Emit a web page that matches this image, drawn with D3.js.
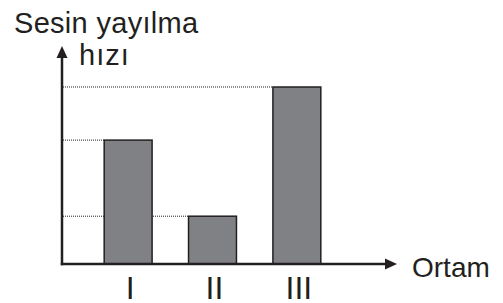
<!DOCTYPE html>
<html>
<head>
<meta charset="utf-8">
<script src="https://cdn.jsdelivr.net/npm/d3@7"></script>
<style>
  html, body { margin: 0; padding: 0; background: #fff; }
  text { font-family: "Liberation Sans", Arial, sans-serif; fill: #231f20; }
</style>
</head>
<body>
<svg id="chart" width="503" height="303"></svg>
<script>
const ortamlar = ["I", "II", "III"];
const hizlar = [7, 2.7, 10];
const yLabel = ["Sesin yayılma", "hızı"];
const xLabel = "Ortam";

const svg = d3.select("#chart");

const originX = 62;
const originY = 264;
const yTop = 87;

const x = d3.scaleBand()
    .domain(ortamlar)
    .range([originX, 363])
    .paddingInner(0.432)
    .paddingOuter(0.5);

const y = d3.scaleLinear()
    .domain([0, 10])
    .range([originY, yTop]);

const ink = "#231f20";

// dotted guides from the axis to each bar
svg.selectAll("line.guide")
  .data(ortamlar)
  .join("line")
    .attr("class", "guide")
    .attr("x1", originX + 1)
    .attr("x2", d => x(d))
    .attr("y1", (d, i) => y(hizlar[i]))
    .attr("y2", (d, i) => y(hizlar[i]))
    .attr("stroke", ink)
    .attr("stroke-width", 1)
    .attr("stroke-dasharray", "1,1");

svg.selectAll("rect.bar")
  .data(ortamlar)
  .join("rect")
    .attr("class", "bar")
    .attr("x", d => x(d))
    .attr("width", x.bandwidth())
    .attr("y", (d, i) => y(hizlar[i]))
    .attr("height", (d, i) => originY - y(hizlar[i]))
    .attr("fill", "#808184")
    .attr("stroke", ink)
    .attr("stroke-width", 1.5);

// axes with arrowheads
svg.append("line")
    .attr("x1", originX).attr("x2", originX)
    .attr("y1", originY + 1.25).attr("y2", 56)
    .attr("stroke", ink).attr("stroke-width", 2.5);
svg.append("path")
    .attr("d", `M${originX},46 L${originX - 5.5},58 L${originX + 5.5},58 Z`)
    .attr("fill", ink);

svg.append("line")
    .attr("x1", originX - 1.25).attr("x2", 387)
    .attr("y1", originY).attr("y2", originY)
    .attr("stroke", ink).attr("stroke-width", 2.5);
svg.append("path")
    .attr("d", `M397,${originY} L385,${originY - 5.5} L385,${originY + 5.5} Z`)
    .attr("fill", ink);

// category labels
svg.selectAll("text.cat")
  .data(ortamlar)
  .join("text")
    .attr("class", "cat")
    .attr("x", d => x(d) + x.bandwidth() / 2 + 2)
    .attr("y", 299)
    .attr("text-anchor", "middle")
    .attr("font-size", 32)
    .text(d => d);

svg.append("text")
    .attr("x", 14)
    .attr("y", 33)
    .attr("font-size", 29)
    .attr("letter-spacing", 0.3)
    .text(yLabel[0]);
svg.append("text")
    .attr("x", 79)
    .attr("y", 65)
    .attr("font-size", 29)
    .attr("letter-spacing", 1)
    .text(yLabel[1]);

svg.append("text")
    .attr("x", 412)
    .attr("y", 277)
    .attr("font-size", 28)
    .text(xLabel);
</script>
</body>
</html>
